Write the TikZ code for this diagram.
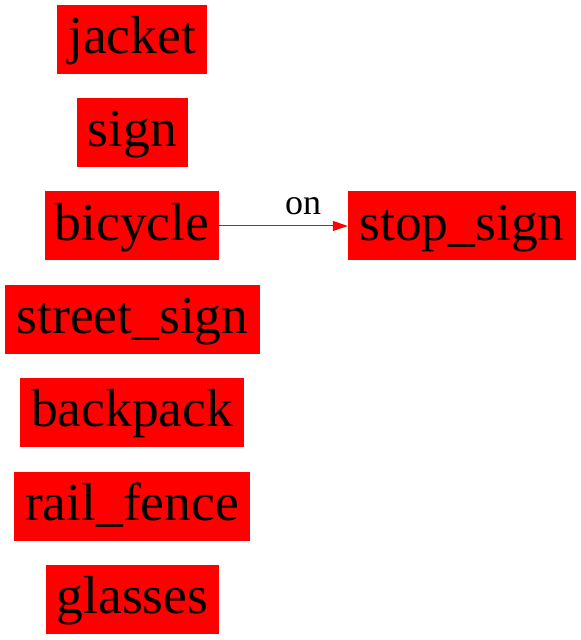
\documentclass[tikz,border=0pt]{standalone}
\usepackage{fontspec}
\setmainfont{Liberation Serif}
\usetikzlibrary{arrows.meta}
\begin{document}
\begin{tikzpicture}[x=1pt,y=1pt,
  box/.style={fill=red, draw=none, minimum height=69pt, inner sep=0pt, text height=40pt, text depth=11pt, font=\fontsize{53.5}{53.5}\selectfont, text=black, anchor=center},
  rel/.style={draw=red, line width=1pt, -{Triangle[length=15pt,width=10pt]}},
  lbl/.style={font=\fontsize{36}{36}\selectfont, text=black}]
\useasboundingbox (0,0) rectangle (581,640);
\node[box, minimum width=150pt] (jacket) at (132,600.5) {jacket};
\node[box, minimum width=111pt] (sign) at (132.5,507.5) {sign};
\node[box, minimum width=174pt] (bicycle) at (132,414) {bicycle};
\node[box, minimum width=255pt] (street) at (132.5,320.5) {street\_sign};
\node[box, minimum width=224pt] (backpack) at (132,227.5) {backpack};
\node[box, minimum width=236pt] (rail) at (132,133.5) {rail\_fence};
\node[box, minimum width=173pt] (glasses) at (132.5,40.5) {glasses};
\node[box, minimum width=228pt] (stop) at (462,414) {stop\_sign};
\draw[rel] (bicycle) -- (stop);
\node[lbl] (on) at (303,434) {on};
\end{tikzpicture}
\end{document}
